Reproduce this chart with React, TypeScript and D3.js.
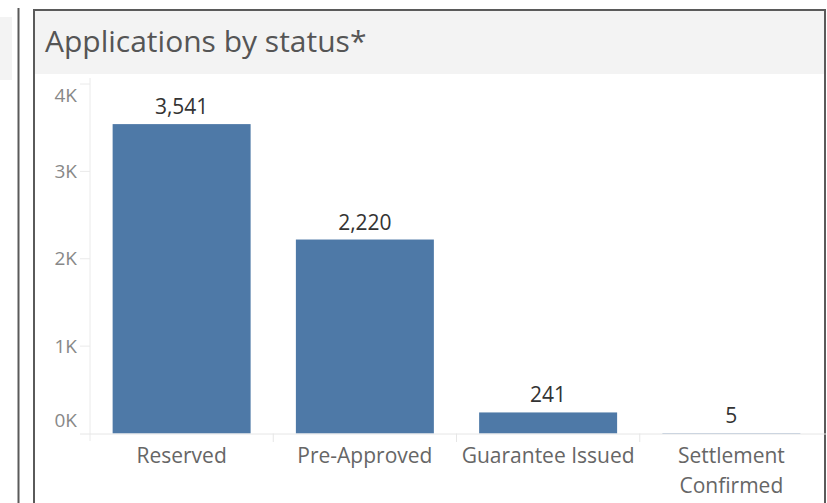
import React from "react";
import * as d3 from "d3";

const categories = ["Reserved", "Pre-Approved", "Guarantee Issued", "Settlement Confirmed"];
const values = [3541, 2220, 241, 5];
const yTicks = [0, 1000, 2000, 3000, 4000];
const title = "Applications by status*";

const W = 827;
const H = 503;
const FONT = "'Open Sans', sans-serif";

export default function App() {
  const plotLeft = 90;
  const plotRight = 823;
  const plotTop = 84;
  const plotBottom = 433.5;

  const x = d3.scaleBand<string>().domain(categories).range([plotLeft, plotRight]).paddingInner(0).paddingOuter(0);
  const y = d3.scaleLinear().domain([0, 4000]).range([plotBottom, plotTop]);
  const barW = x.bandwidth() * 0.753;
  const fmt = d3.format(",");
  const tickFmt = (v: number) => `${v / 1000}K`;

  const splitLabel = (s: string) => (s === "Settlement Confirmed" ? ["Settlement", "Confirmed"] : [s]);

  return (
    <div style={{ position: "absolute", left: 0, top: 0 }}>
      <svg width={W} height={H} style={{ display: "block", background: "#fff" }}>
        {/* left neighbouring panel */}
        <rect x={0} y={17} width={12} height={63} fill="#f3f3f3" />
        <line x1={18.5} x2={18.5} y1={8} y2={H} stroke="#5a5a5a" strokeWidth={2} />

        {/* right panel */}
        <rect x={35} y={11} width={789} height={63} fill="#f3f3f3" />
        <rect x={34} y={10} width={791} height={H} fill="none" stroke="#5a5a5a" strokeWidth={2} />
        <text x={45} y={52} fontFamily={FONT} fontSize={30} fill="#555">
          {title}
        </text>

        {/* axis line */}
        <line x1={plotLeft} x2={plotLeft} y1={78} y2={441} stroke="#eaeaea" strokeWidth={1} />
        {yTicks.map((t) => {
          const ty = y(t);
          const ly = Math.min(Math.max(ty, plotTop + 11.5), plotBottom - 13.5);
          return (
            <g key={t}>
              {t !== 0 && <line x1={80} x2={plotLeft} y1={ty} y2={ty} stroke="#eaeaea" />}
              <text x={77} y={ly} dy="0.35em" textAnchor="end" fontFamily={FONT} fontSize={19} fill="#888">
                {tickFmt(t)}
              </text>
            </g>
          );
        })}

        {/* bars */}
        {categories.map((c, i) => {
          const cx = (x(c) as number) + x.bandwidth() / 2;
          const top = y(values[i]);
          return (
            <g key={c}>
              <rect x={cx - barW / 2} y={top} width={barW} height={plotBottom - top} fill="#4e79a7" />
              <text x={cx} y={top - 10} textAnchor="middle" fontFamily={FONT} fontSize={21} fill="#333">
                {fmt(values[i])}
              </text>
            </g>
          );
        })}

        {/* zero line */}
        <line x1={80} x2={826} y1={plotBottom + 0.5} y2={plotBottom + 0.5} stroke="#e6e6e6" />
        {categories.slice(1).map((c) => (
          <line key={c} x1={x(c) as number} x2={x(c) as number} y1={plotBottom} y2={442} stroke="#e6e6e6" />
        ))}

        {/* category labels */}
        {categories.map((c) => {
          const cx = (x(c) as number) + x.bandwidth() / 2;
          return (
            <text key={c} textAnchor="middle" fontFamily={FONT} fontSize={21} fill="#666">
              {splitLabel(c).map((line, j) => (
                <tspan key={j} x={cx} y={463 + j * 30}>
                  {line}
                </tspan>
              ))}
            </text>
          );
        })}
      </svg>
    </div>
  );
}
